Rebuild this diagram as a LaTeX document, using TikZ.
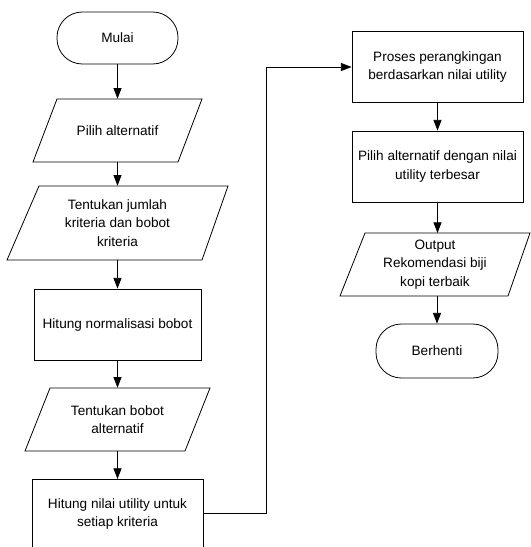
\documentclass[tikz,border=0pt]{standalone}
\usepackage{fontspec}
\setmainfont{Liberation Sans}
\usetikzlibrary{arrows.meta}
\begin{document}
\begin{tikzpicture}[x=0.75pt,y=-0.75pt,
  lbl/.style={align=center,font=\fontsize{10.2}{13.9}\selectfont,inner sep=0pt},
  flowline/.style={line width=0.6pt},
  arr/.style={flowline,-{Triangle[length=8pt,width=6pt]}},
  shp/.style={line width=0.6pt},
  term/.style={lbl,draw,line width=0.6pt,rounded corners=19pt,minimum width=121*0.75pt,minimum height=52*0.75pt},
  proc/.style={lbl,draw,line width=0.6pt,minimum width=171*0.75pt,minimum height=71*0.75pt}]
\useasboundingbox (0,0) rectangle (531,547);
% left column
\node[term] (mulai) at (117.5,38) {Mulai};
\node[lbl,minimum width=169*0.75pt,minimum height=63*0.75pt] (pilih) at (117.5,130.5) {Pilih alternatif};
\draw[shp] (57,99) -- (202,99) -- (178,162) -- (33,162) -- cycle;
\node[lbl,minimum width=221*0.75pt,minimum height=74*0.75pt] (tentu) at (117.5,223) {Tentukan jumlah\\kriteria dan bobot\\kriteria};
\draw[shp] (39,186) -- (228,186) -- (202,260) -- (7,260) -- cycle;
\node[proc,minimum width=167*0.75pt] (norm) at (117.5,324.5) {Hitung normalisasi bobot};
\node[lbl,minimum width=185*0.75pt,minimum height=63*0.75pt] (bobot) at (117.5,419.5) {Tentukan bobot\\alternatif};
\draw[shp] (50,388) -- (210,388) -- (185,451) -- (25,451) -- cycle;
\node[lbl] (nilai) at (117.5,514) {Hitung nilai utility untuk\\setiap kriteria};
\draw[shp] (32,551) -- (32,479) -- (203,479) -- (203,551) -- cycle;
\coordinate (nilaiR) at (203,513);
% right column
\node[proc] (proses) at (437.5,67) {Proses perangkingan\\berdasarkan nilai utility};
\node[proc] (pilihmax) at (437.5,166.5) {Pilih alternatif dengan nilai\\utility terbesar};
\node[lbl,minimum width=190*0.75pt,minimum height=63*0.75pt] (output) at (435,264.5) {Output\\Rekomendasi biji\\kopi terbaik};
\draw[shp] (365,233) -- (530,233) -- (508,296) -- (340,296) -- cycle;
\node[term,minimum width=122*0.75pt,minimum height=54*0.75pt] (stop) at (437,351) {Berhenti};
% connectors
\draw[arr] (mulai.south) -- (pilih.north);
\draw[arr] (pilih.south) -- (tentu.north);
\draw[arr] (tentu.south) -- (norm.north);
\draw[arr] (norm.south) -- (bobot.north);
\draw[arr] (bobot.south) -- (117.5,479);
\draw[arr] (nilaiR) -- (266,513) -- (266,67) -- (proses.west);
\draw[arr] (proses.south) -- (pilihmax.north);
\draw[arr] (pilihmax.south) -- (437.5,233);
\draw[arr] (437,296) -- (stop.north);
\end{tikzpicture}
\end{document}
